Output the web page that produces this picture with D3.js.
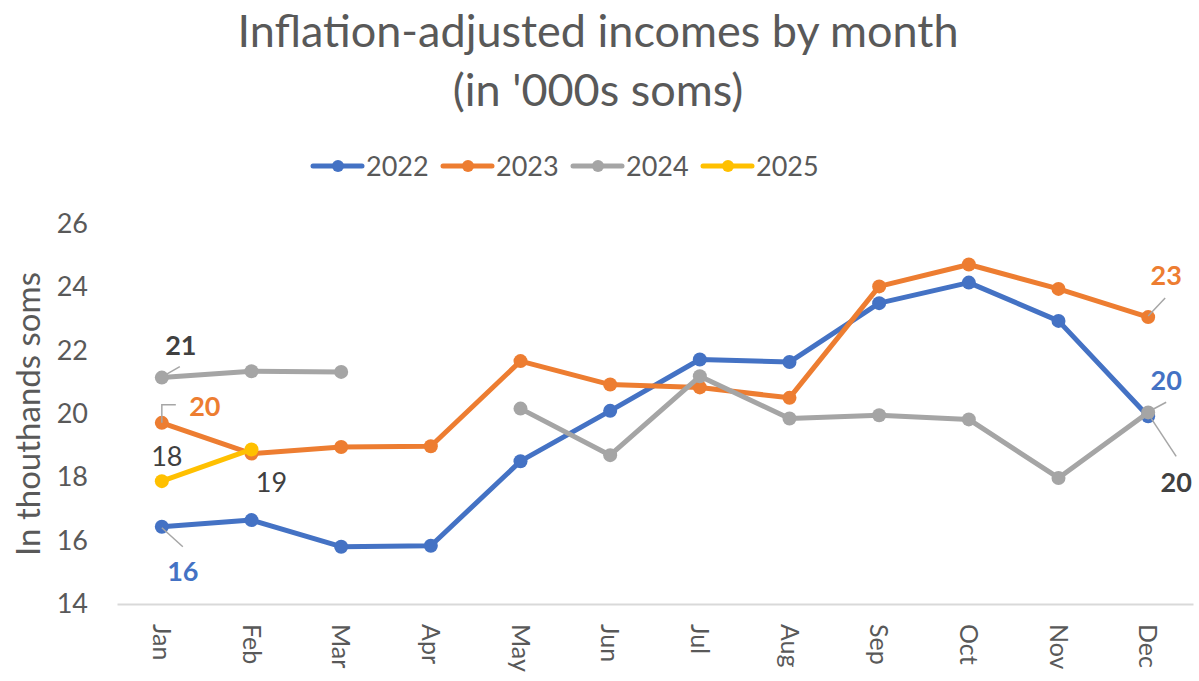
<!DOCTYPE html>
<meta charset="utf-8">
<body style="margin:0;background:#fff">
<div id="chart"></div>
<script src="https://cdn.jsdelivr.net/npm/d3@7"></script>
<script>
var months = ["Jan", "Feb", "Mar", "Apr", "May", "Jun", "Jul", "Aug", "Sep", "Oct", "Nov", "Dec"];
var years = ["2022", "2023", "2024", "2025"];
var colors = ["#4472c4", "#ed7d31", "#a5a5a5", "#ffc000"];

var v2022 = [16.44, 16.65, 15.81, 15.84, 18.51, 20.10, 21.72, 21.64, 23.50, 24.15, 22.94, 19.93];
var v2023 = [19.72, 18.75, 18.96, 18.98, 21.67, 20.93, 20.84, 20.51, 24.03, 24.72, 23.95, 23.06];
var v2024 = [21.15, 21.35, 21.33, null, 20.17, 18.70, 21.19, 19.86, 19.96, 19.83, 17.98, 20.05];
var v2025 = [17.88, 18.88, null, null, null, null, null, null, null, null, null, null];
var yTicks = [14, 16, 18, 20, 22, 24, 26];

// data labels: series index, month index, text, bold, offset of text, leader path offsets
var labels = [
  {s: 0, m: 0, t: "16", bold: true, dx: 21, dy: 45, lead: [[0, 1], [21, 20]]},
  {s: 0, m: 11, t: "20", bold: true, dx: 18, dy: -36, lead: [[3, -6], [18, -14]]},
  {s: 1, m: 0, t: "20", bold: true, dx: 43, dy: -16, lead: [[0, 0], [0, -18], [14, -18]]},
  {s: 1, m: 11, t: "23", bold: true, dx: 18, dy: -42, lead: [[0, -1], [17, -19]]},
  {s: 2, m: 0, t: "21", bold: true, dx: 19, dy: -32, lead: [[4, -3], [18, -11]]},
  {s: 2, m: 11, t: "20", bold: true, dx: 28, dy: 70, lead: [[3, 6], [28, 44]]},
  {s: 3, m: 0, t: "18", bold: false, dx: 5, dy: -25, lead: null},
  {s: 3, m: 1, t: "19", bold: false, dx: 20, dy: 33, lead: null}
];

var series = [v2022, v2023, v2024, v2025];
var labelColors = ["#4472c4", "#ed7d31", "#404040", "#404040"];

var W = 1199, H = 681;
var margin = {top: 224, right: 6, bottom: 77, left: 117};
var width = W - margin.left - margin.right,
  height = H - margin.top - margin.bottom;

var font = "Lato, 'Open Sans', sans-serif";

var svg = d3.select("#chart").append("svg")
  .attr("width", W)
  .attr("height", H)
  .style("font-family", font);

// title
svg.append("text")
  .attr("x", 598).attr("y", 47)
  .attr("text-anchor", "middle")
  .style("font-size", "45px")
  .style("fill", "#595959")
  .text("Inflation-adjusted incomes by month");
svg.append("text")
  .attr("x", 598).attr("y", 106)
  .attr("text-anchor", "middle")
  .style("font-size", "45px")
  .style("fill", "#595959")
  .text("(in '000s soms)");

// legend
var legendX = [313, 443, 573, 703];
var legend = svg.append("g").attr("transform", "translate(0,166)");
years.forEach(function(y, i) {
  var g = legend.append("g").attr("transform", "translate(" + legendX[i] + ",0)");
  g.append("line").attr("x1", 0).attr("x2", 49).attr("y1", 0).attr("y2", 0)
    .attr("stroke", colors[i]).attr("stroke-width", 5).attr("stroke-linecap", "round");
  g.append("circle").attr("cx", 25).attr("cy", 0).attr("r", 6).attr("fill", colors[i]);
  g.append("text").attr("x", 53).attr("y", 10)
    .style("font-size", "27px").style("fill", "#595959").text(y);
});

var g = svg.append("g")
  .attr("transform", "translate(" + margin.left + "," + margin.top + ")");

var x = d3.scaleBand().domain(months).range([0, width]);
var y = d3.scaleLinear().domain([14, 26]).range([height, 0]);
var cx = function(m) { return x(months[m]) + x.bandwidth() / 2; };

// y axis
var yAxis = g.append("g")
  .call(d3.axisLeft(y).tickValues(yTicks).tickSize(0).tickPadding(29));
yAxis.select(".domain").remove();
yAxis.selectAll("text")
  .style("font-size", "27px").style("fill", "#595959").style("font-family", font);

// x axis
var xAxis = g.append("g")
  .attr("transform", "translate(0," + height + ")")
  .call(d3.axisBottom(x).tickSize(0).tickPadding(0));
xAxis.select(".domain").attr("stroke", "#d9d9d9").attr("stroke-width", 2);
xAxis.selectAll("text")
  .attr("transform", "rotate(90)")
  .attr("x", 20).attr("y", 0).attr("dy", "0.35em")
  .attr("text-anchor", "start")
  .style("font-size", "25px").style("fill", "#595959").style("font-family", font);

// y axis title
svg.append("text")
  .attr("transform", "translate(40,414) rotate(-90)")
  .attr("text-anchor", "middle")
  .style("font-size", "33px").style("fill", "#595959")
  .text("In thouthands soms");

// lines
var line = d3.line()
  .defined(function(d) { return d != null; })
  .x(function(d, i) { return cx(i); })
  .y(function(d) { return y(d); });

series.forEach(function(vals, s) {
  g.append("path").datum(vals)
    .attr("fill", "none")
    .attr("stroke", colors[s])
    .attr("stroke-width", 5)
    .attr("stroke-linejoin", "round")
    .attr("d", line);
  g.selectAll(".pt" + s)
    .data(vals.map(function(v, i) { return {v: v, i: i}; }).filter(function(d) { return d.v != null; }))
    .enter().append("circle")
    .attr("cx", function(d) { return cx(d.i); })
    .attr("cy", function(d) { return y(d.v); })
    .attr("r", 7)
    .attr("fill", colors[s]);
});

// data labels
labels.forEach(function(l) {
  var px = cx(l.m), py = y(series[l.s][l.m]);
  if (l.lead) {
    g.append("path")
      .attr("d", d3.line()(l.lead.map(function(p) { return [px + p[0], py + p[1]]; })))
      .attr("fill", "none").attr("stroke", "#a6a6a6").attr("stroke-width", 1.5);
  }
  g.append("text")
    .attr("x", px + l.dx).attr("y", py + l.dy)
    .attr("dy", "0.35em")
    .attr("text-anchor", "middle")
    .style("font-size", "27px")
    .style("font-weight", l.bold ? "bold" : "normal")
    .style("fill", labelColors[l.s])
    .text(l.t);
});
</script>
</body>
